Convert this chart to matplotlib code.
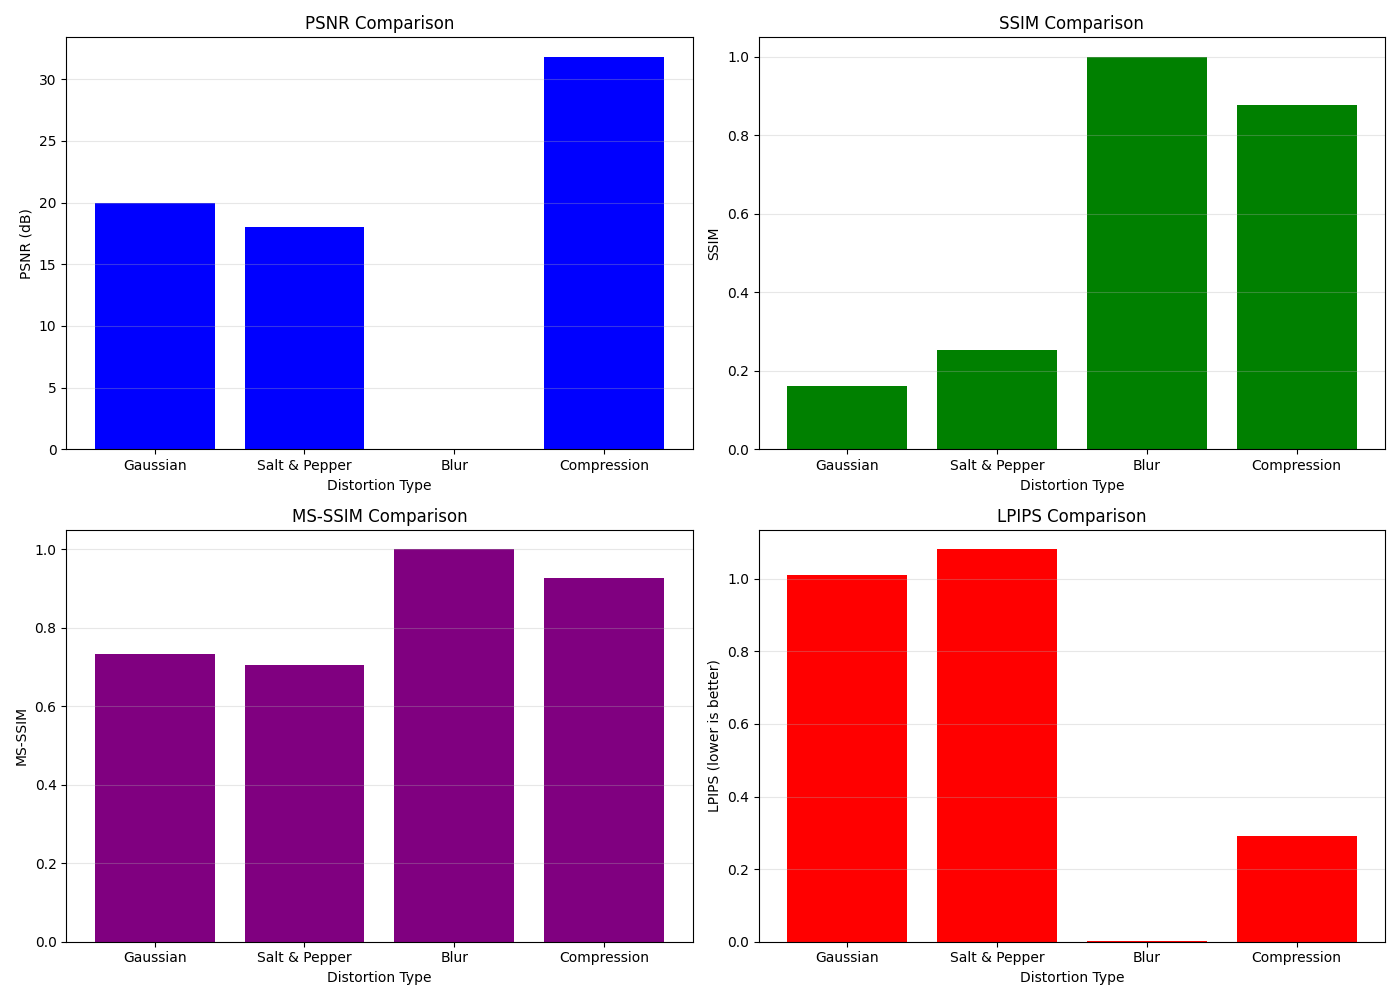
import matplotlib.pyplot as plt

# data
distortions = ["Gaussian", "Salt & Pepper", "Blur", "Compression"]
psnr_vals = [20.0, 18.0, 0.0, 31.8]
ssim_vals = [0.161, 0.253, 1.0, 0.877]
msssim_vals = [0.733, 0.705, 1.0, 0.926]
lpips_vals = [1.010, 1.081, 0.002, 0.292]

fig, axes = plt.subplots(2, 2, figsize=(14, 10))

panels = [
    (axes[0, 0], psnr_vals, "blue", "PSNR (dB)", "PSNR Comparison"),
    (axes[0, 1], ssim_vals, "green", "SSIM", "SSIM Comparison"),
    (axes[1, 0], msssim_vals, "purple", "MS-SSIM", "MS-SSIM Comparison"),
    (axes[1, 1], lpips_vals, "red", "LPIPS (lower is better)", "LPIPS Comparison"),
]

for ax, vals, color, ylabel, title in panels:
    ax.bar(distortions, vals, color=color)
    ax.set_xlabel("Distortion Type")
    ax.set_ylabel(ylabel)
    ax.set_title(title)
    ax.grid(axis="y", alpha=0.3)

plt.tight_layout()
plt.savefig("out.png", dpi=100)
